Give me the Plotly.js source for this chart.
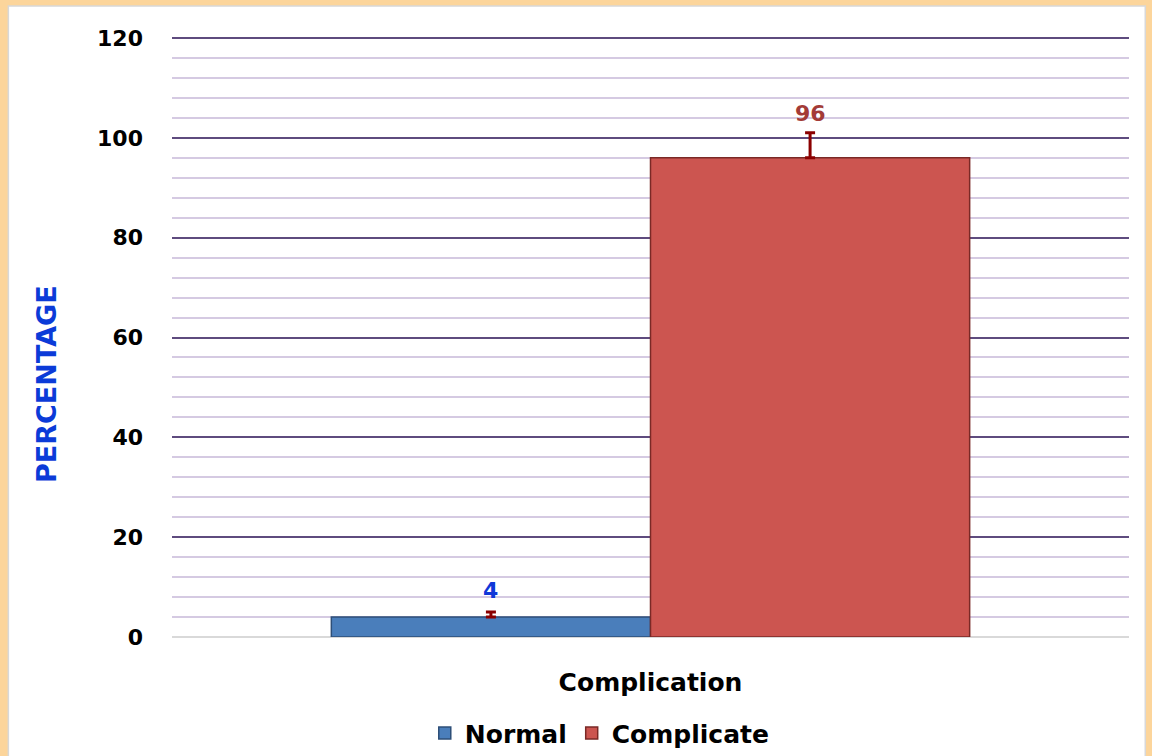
<!DOCTYPE html>
<html>
<head>
<meta charset="utf-8">
<script src="https://cdn.plot.ly/plotly-3.0.1.min.js"></script>
<style>
html,body{margin:0;padding:0;background:#fff;}
#chart{width:1152px;height:756px;}
</style>
</head>
<body>
<div id="chart"></div>
<script>
const categories = ["Complication"];
const seriesNames = ["Normal", "Complicate"];
const normalValues = [4];
const complicateValues = [96];
const normalErrors = [1];
const complicateErrors = [5];
const yTickValues = [0, 20, 40, 60, 80, 100, 120];
const yAxisTitle = "PERCENTAGE";

const FONT = "'DejaVu Sans', sans-serif";

const traces = [
  {
    type: "bar", name: seriesNames[0], x: categories, y: normalValues,
    marker: {color: "#4A7EBB", line: {color: "#2E4F78", width: 1.5}},
    error_y: {type: "data", symmetric: false, array: normalErrors, arrayminus: [0], color: "#8B0000", thickness: 3, width: 5},
    hoverinfo: "none"
  },
  {
    type: "bar", name: seriesNames[1], x: categories, y: complicateValues,
    marker: {color: "#CC5550", line: {color: "#7A2926", width: 1.5}},
    error_y: {type: "data", symmetric: false, array: complicateErrors, arrayminus: [0], color: "#8B0000", thickness: 3, width: 5},
    hoverinfo: "none"
  }
];

const labelColors = ["#1038D8", "#A33B37"];
const annotations = [
  {x: categories[0], xshift: -160, y: normalValues[0] + normalErrors[0], yref: "y", xref: "x", text: String(normalValues[0]),
   showarrow: false, yanchor: "bottom", yshift: 7, font: {family: FONT, size: 22, color: labelColors[0], weight: "bold"}},
  {x: categories[0], xshift: 160, y: complicateValues[0] + complicateErrors[0], yref: "y", xref: "x", text: String(complicateValues[0]),
   showarrow: false, yanchor: "bottom", yshift: 5, font: {family: FONT, size: 22, color: labelColors[1], weight: "bold"}},
  {xref: "paper", yref: "paper", x: -0.1306, y: 0.421, text: yAxisTitle, textangle: -90, showarrow: false,
   xanchor: "center", yanchor: "middle",
   font: {family: FONT, size: 27, color: "#0B3BD8", weight: "bold"}}
];

const shapes = [
  {type: "rect", xref: "paper", yref: "paper", x0: -0.171, x1: 1.017, y0: -0.3, y1: 1.05,
   fillcolor: "#FFFFFF", line: {color: "#D8D8D8", width: 1.5}, layer: "below"}
];

const layout = {
  width: 1152, height: 756,
  paper_bgcolor: "#FCD59B",
  plot_bgcolor: "rgba(0,0,0,0)",
  margin: {l: 172, r: 23, t: 36, b: 119, autoexpand: false},
  barmode: "group",
  bargap: 0.333,
  bargroupgap: 0,
  showlegend: true,
  font: {family: FONT, color: "#000"},
  xaxis: {
    type: "category",
    showgrid: false, zeroline: false, showline: false,
    ticks: "", ticklabelstandoff: 28,
    tickfont: {family: FONT, size: 25, color: "#000", weight: "bold"}
  },
  yaxis: {
    range: [0, 120.4],
    tickvals: yTickValues,
    showgrid: true, gridcolor: "#5E4B7E", gridwidth: 2,
    minor: {dtick: 4, showgrid: true, gridcolor: "#D5CAE2", gridwidth: 2},
    zeroline: true, zerolinecolor: "#D9D9D9", zerolinewidth: 2,
    showline: false, ticks: "",
    ticklabelstandoff: 28,
    tickfont: {family: FONT, size: 22, color: "#000", weight: "bold"}
  },
  legend: {
    orientation: "h", x: 0.447, xanchor: "center", yref: "container", y: 0.03, yanchor: "middle",
    font: {family: FONT, size: 25, color: "#000", weight: "bold"},
    itemwidth: 30, traceorder: "normal", bgcolor: "rgba(0,0,0,0)"
  },
  annotations: annotations,
  shapes: shapes
};

Plotly.newPlot("chart", traces, layout, {displayModeBar: false, staticPlot: true});
</script>
</body>
</html>
